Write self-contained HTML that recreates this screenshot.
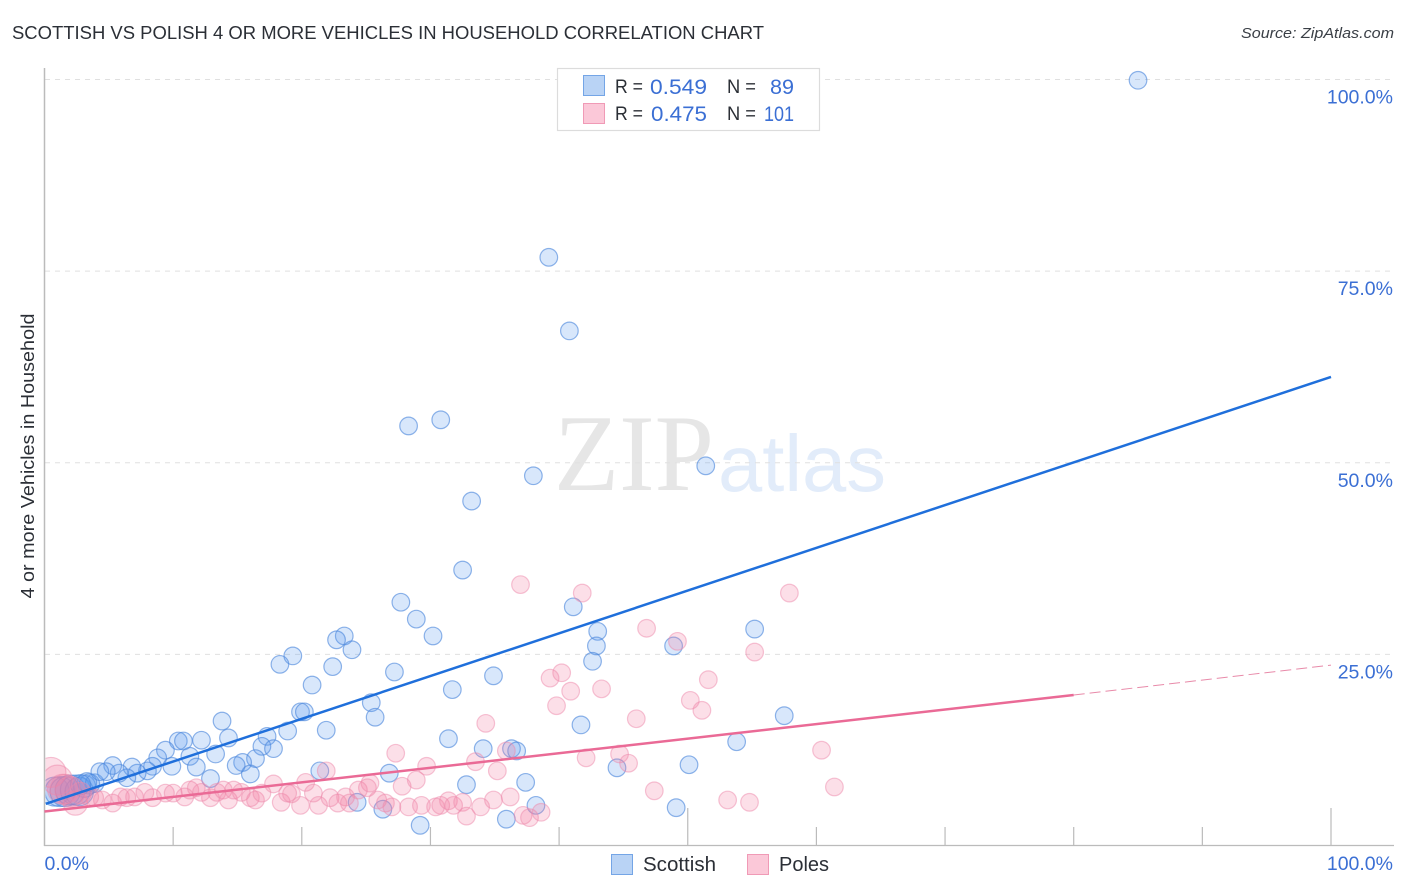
<!DOCTYPE html>
<html lang="en">
<head>
<meta charset="utf-8">
<title>Scottish vs Polish 4 or More Vehicles in Household Correlation Chart</title>
<style>
html,body{margin:0;padding:0;background:#fff;width:1406px;height:892px;overflow:hidden}
svg{display:block}
text{font-family:"Liberation Sans",sans-serif}
</style>
</head>
<body>
<svg id="chart" xmlns="http://www.w3.org/2000/svg" width="1406" height="892" viewBox="0 0 1406 892">
  <defs>
    <clipPath id="plot-clip"><rect x="45.5" y="60" width="1360" height="786"/></clipPath>
  </defs>
  <rect x="0" y="0" width="1406" height="892" fill="#ffffff"/>
  <text x="12" y="39" font-size="18" fill="#2b2f36" textLength="752" lengthAdjust="spacingAndGlyphs">SCOTTISH VS POLISH 4 OR MORE VEHICLES IN HOUSEHOLD CORRELATION CHART</text>
  <text x="1394" y="38" font-size="15" font-style="italic" fill="#3a3f46" text-anchor="end" textLength="153" lengthAdjust="spacingAndGlyphs">Source: ZipAtlas.com</text>

  <g>
    <text x="554" y="490" font-size="109" fill="#e6e6e6" textLength="160" lengthAdjust="spacingAndGlyphs" style="font-family:'Liberation Serif',serif">ZIP</text>
    <text x="718" y="491" font-size="80" fill="#e2ecfa" textLength="168" lengthAdjust="spacingAndGlyphs">atlas</text>
  </g>

  <g id="grid"></g>
  <g id="axes"></g>
  <g id="ylabels"></g>
  <g id="xlabels"></g>
  <text transform="translate(34,456) rotate(-90)" font-size="18.5" fill="#2b2f36" text-anchor="middle" textLength="285" lengthAdjust="spacingAndGlyphs">4 or more Vehicles in Household</text>

  <g id="blue-points" clip-path="url(#plot-clip)"></g>
  <g id="pink-points" clip-path="url(#plot-clip)"></g>
  <g id="trends"></g>

  <g>
    <rect x="557.5" y="68.5" width="262" height="62" fill="#ffffff" stroke="#dcdcdc" stroke-width="1.2"/>
    <rect x="583.5" y="75.5" width="21" height="20" fill="#b9d3f5" stroke="#74a5e6" stroke-width="1"/>
    <rect x="583.5" y="103.5" width="21" height="20" fill="#fbc8d8" stroke="#f09ab6" stroke-width="1"/>
    <text x="615" y="93" font-size="19" fill="#2b2f36" textLength="28" lengthAdjust="spacingAndGlyphs">R =</text>
    <text x="650" y="94" font-size="21.5" fill="#3b6fd4" textLength="57" lengthAdjust="spacingAndGlyphs">0.549</text>
    <text x="727" y="93" font-size="19" fill="#2b2f36" textLength="29" lengthAdjust="spacingAndGlyphs">N =</text>
    <text x="770" y="94" font-size="21.5" fill="#3b6fd4" textLength="24" lengthAdjust="spacingAndGlyphs">89</text>
    <text x="615" y="120" font-size="19" fill="#2b2f36" textLength="28" lengthAdjust="spacingAndGlyphs">R =</text>
    <text x="651" y="121" font-size="21.5" fill="#3b6fd4" textLength="56" lengthAdjust="spacingAndGlyphs">0.475</text>
    <text x="727" y="120" font-size="19" fill="#2b2f36" textLength="29" lengthAdjust="spacingAndGlyphs">N =</text>
    <text x="764" y="121" font-size="21.5" fill="#3b6fd4" textLength="30" lengthAdjust="spacingAndGlyphs">101</text>
  </g>

  <g>
    <g>
      <rect x="611.5" y="854.5" width="21" height="20" fill="#b9d3f5" stroke="#74a5e6" stroke-width="1"/>
      <text x="643" y="871" font-size="20" fill="#2b2f36" textLength="73" lengthAdjust="spacingAndGlyphs">Scottish</text>
    </g>
    <g>
      <rect x="747.5" y="854.5" width="21" height="20" fill="#fbc8d8" stroke="#f09ab6" stroke-width="1"/>
      <text x="779" y="871" font-size="20" fill="#2b2f36" textLength="50" lengthAdjust="spacingAndGlyphs">Poles</text>
    </g>
  </g>
</svg>
<script>
var yTickValues = [25, 50, 75, 100];
var yTickLabels = ["25.0%", "50.0%", "75.0%", "100.0%"];
var xTickValues = [10, 20, 30, 40, 50, 60, 70, 80, 90, 100];
var xMajorTicks = [50, 100];
var xEndValues = [0, 100];
var xEndLabels = ["0.0%", "100.0%"];

var scottishX = [0.8,1.2,1.6,2.0,2.4,2.7,3.1,3.5,3.9,3.3,2.8,
  85.0,39.2,40.8,28.3,30.8,38.0,51.4,33.2,32.5,27.7,41.1,28.9,43.0,30.2,23.3,22.7,23.9,42.9,42.6,48.9,55.2,
  19.3,18.3,22.4,27.2,20.8,34.9,31.7,25.4,19.9,20.2,25.7,41.7,57.5,13.8,21.9,18.9,17.3,31.4,53.8,14.3,12.2,10.4,10.8,9.4,
  16.9,17.8,34.1,36.3,36.7,13.3,8.8,11.3,9.9,16.4,15.4,14.9,11.8,8.4,8.0,7.2,6.8,12.9,16.0,6.4,5.8,5.3,4.8,4.3,
  26.8,21.4,44.5,50.1,32.8,37.4,24.3,26.3,38.2,49.1,29.2,35.9];
var scottishY = [7.1,7.1,7.1,7.3,7.3,7.1,7.8,8.1,8.2,8.3,8.0,
  99.9,76.8,67.2,54.8,55.6,48.3,49.6,45.0,36.0,31.8,31.2,29.6,28.0,27.4,27.4,26.9,25.6,26.1,24.1,26.1,28.3,
  24.8,23.7,23.4,22.7,21.0,22.2,20.4,18.7,17.5,17.5,16.8,15.8,17.0,16.3,15.1,15.0,14.3,14.0,13.6,14.1,13.8,13.7,13.7,12.5,
  13.0,12.7,12.7,12.7,12.4,12.0,11.5,11.7,10.4,11.4,10.9,10.5,10.3,10.4,9.8,9.5,10.3,8.8,9.4,8.9,9.5,10.5,9.7,9.7,
  9.5,9.8,10.2,10.6,8.0,8.3,5.7,4.8,5.3,5.0,2.7,3.5];
var scottishSize = [2.7,2.9,2.9,2.9,2.9,2.6,1.6,1.3,1.1,1.2,1.3,
  1,1,1,1,1,1,1,1,1,1,1,1,1,1,1,1,1,1,1,1,1,
  1,1,1,1,1,1,1,1,1,1,1,1,1,1,1,1,1,1,1,1,1,1,1,1,
  1,1,1,1,1,1,1,1,1,1,1,1,1,1,1,1,1,1,1,1,1,1,1,1,
  1,1,1,1,1,1,1,1,1,1,1,1];

var polesX = [0.5,1.0,1.4,2.4,2.0,1.6,2.8,3.5,
  3.9,4.5,5.3,5.9,6.4,7.0,7.8,8.4,9.4,10.0,10.9,11.3,11.8,12.2,12.9,13.4,13.9,14.3,14.7,15.3,16.0,16.4,16.9,17.8,18.4,18.9,19.2,19.9,20.3,20.9,21.3,21.9,22.2,22.8,23.4,23.7,24.4,25.1,25.3,25.9,26.5,27.0,27.3,27.8,28.3,28.9,29.3,29.7,30.4,30.8,31.4,31.8,32.5,32.8,33.5,33.9,34.3,34.9,35.2,35.9,36.2,37.2,37.7,38.6,
  37.0,41.8,57.9,46.8,49.2,55.2,40.2,39.3,51.6,40.9,43.3,50.2,51.1,39.8,46.0,60.4,42.1,44.7,45.4,47.4,61.4,53.1,54.8,56.0,75.2];
var polesY = [9.6,8.6,7.4,5.6,7.1,7.4,6.9,6.4,
  6.3,6.0,5.6,6.4,6.3,6.4,7.0,6.3,6.9,6.9,6.4,7.3,7.6,7.0,6.3,7.0,7.3,6.0,7.3,7.0,6.3,6.0,6.9,8.1,5.7,6.9,6.8,5.3,8.3,6.9,5.3,9.8,6.3,5.6,6.4,5.6,7.3,7.6,8.2,6.0,5.6,5.1,12.1,7.8,5.1,8.6,5.3,10.4,5.1,5.3,5.9,5.3,5.7,3.9,11.0,5.1,16.0,6.0,9.8,12.4,6.4,4.0,3.7,4.4,
  34.1,33.0,33.0,28.4,26.7,25.3,22.6,21.9,21.7,20.2,20.5,19.0,17.7,18.3,16.6,12.5,11.5,12.0,10.8,7.2,7.7,6.0,5.7,4.3,5.3];
var polesSize = [2.9,2.9,2.9,1.9,2.9,2.9,1.5,1.05,
  1,1,1,1,1,1,1,1,1,1,1,1,1,1,1,1,1,1,1,1,1,1,1,1,1,1,1,1,1,1,1,1,1,1,1,1,1,1,1,1,1,1,1,1,1,1,1,1,1,1,1,1,1,1,1,1,1,1,1,1,1,1,1,1,
  1,1,1,1,1,1,1,1,1,1,1,1,1,1,1,1,1,1,1,1,1,1,1];

var scottishTrendX = [0.1, 100];
var scottishTrendY = [5.5, 61.2];
var polesTrendX = [0, 80];
var polesTrendY = [4.5, 19.7];
var polesDashX = [80, 100];
var polesDashY = [19.7, 23.6];

var NS = "http://www.w3.org/2000/svg";
function xScale(v) { return 44.5 + v * 12.865; }
function yScale(v) { return 846 - v * 7.665; }
function rScale(s) { return 8.8 * Math.sqrt(s); }
function mk(tag, parent, attrs) {
  var el = document.createElementNS(NS, tag);
  for (var k in attrs) { el.setAttribute(k, attrs[k]); }
  parent.appendChild(el);
  return el;
}

var gridG = document.getElementById("grid");
var axesG = document.getElementById("axes");
var yLabG = document.getElementById("ylabels");
var xLabG = document.getElementById("xlabels");
var pinkG = document.getElementById("pink-points");
var blueG = document.getElementById("blue-points");
var trendG = document.getElementById("trends");

yTickValues.forEach(function (v, i) {
  var g = mk("line", gridG, {x1: 45, x2: 1393, y1: yScale(v), y2: yScale(v), stroke: "#e0e0e0", "stroke-width": 1, "stroke-dasharray": "5 5"});
  
  
  var t = mk("text", yLabG, {x: 1393, y: yScale(v) + 24, "font-size": 19.5, fill: "#3b6fd4", "text-anchor": "end"});
  t.textContent = yTickLabels[i];
  
  
});

var yAxis = mk("line", axesG, {x1: 44.5, x2: 44.5, y1: 68, y2: 846, stroke: "#bbbbbb", "stroke-width": 1.5});


var xAxis = mk("line", axesG, {x1: 44, x2: 1394, y1: 845.5, y2: 845.5, stroke: "#bbbbbb", "stroke-width": 1.2});



xTickValues.forEach(function (v) {
  var top = xMajorTicks.indexOf(v) >= 0 ? 808 : 827;
  var tk = mk("line", axesG, {x1: xScale(v), x2: xScale(v), y1: top, y2: 846, stroke: "#bbbbbb", "stroke-width": 1.2});
  
  
});

xEndValues.forEach(function (v, i) {
  var t = mk("text", xLabG, {x: i === 0 ? xScale(v) : 1393, y: 870, "font-size": 19.5, fill: "#3b6fd4", "text-anchor": i === 0 ? "start" : "end"});
  t.textContent = xEndLabels[i];
  
  
});

scottishX.forEach(function (v, i) {
  var c = mk("circle", blueG, {cx: xScale(v), cy: yScale(scottishY[i]), r: rScale(scottishSize[i]), fill: "#5b9bf0", "fill-opacity": 0.24, stroke: "#4a86dc", "stroke-opacity": 0.62, "stroke-width": 1.2});
  
  
});

polesX.forEach(function (v, i) {
  var c = mk("circle", pinkG, {cx: xScale(v), cy: yScale(polesY[i]), r: rScale(polesSize[i]), fill: "#f27ea5", "fill-opacity": 0.25, stroke: "#ee8aac", "stroke-opacity": 0.5, "stroke-width": 1.2});
  
  
});

var blueLine = mk("line", trendG, {x1: xScale(scottishTrendX[0]), y1: yScale(scottishTrendY[0]), x2: xScale(scottishTrendX[1]), y2: yScale(scottishTrendY[1]), stroke: "#1f6fdb", "stroke-width": 2.5});


var pinkLine = mk("line", trendG, {x1: xScale(polesTrendX[0]), y1: yScale(polesTrendY[0]), x2: xScale(polesTrendX[1]), y2: yScale(polesTrendY[1]), stroke: "#ea6a96", "stroke-width": 2.5});


var pinkDash = mk("line", trendG, {x1: xScale(polesDashX[0]), y1: yScale(polesDashY[0]), x2: xScale(polesDashX[1]), y2: yScale(polesDashY[1]), stroke: "#e88aa9", "stroke-width": 1, "stroke-dasharray": "11 5"});


</script>
</body>
</html>
